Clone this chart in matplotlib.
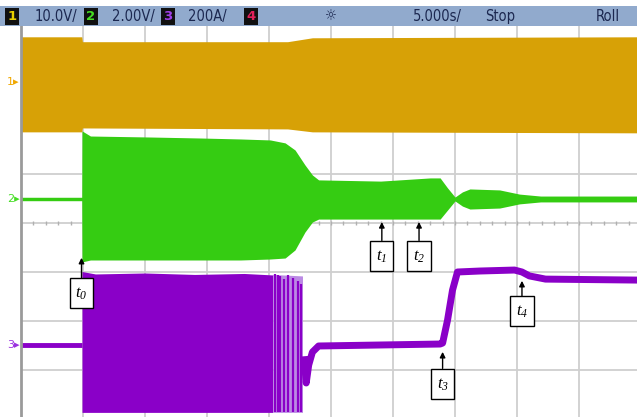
import matplotlib.pyplot as plt
import numpy as np
from matplotlib.patches import Rectangle

plt.rcParams['mathtext.fontset'] = 'custom'
plt.rcParams['mathtext.it'] = 'Liberation Serif:italic'
plt.rcParams['mathtext.rm'] = 'Liberation Serif:italic'

# scope settings: units per division and ground marker position (div from centre)
sec_per_div = 5.0
ch_scale = {1: 10.0, 2: 2.0, 3: 200.0}
ch_offset = {1: 2.88, 2: 0.49, 3: -2.49}

# channel 1 (V), envelope of the oscillation
ch1_t = [0, 4.9, 4.95, 21.5, 23.5, 49.7]
ch1_hi = [9.2, 9.2, 8.2, 8.2, 9.0, 9.2]
ch1_lo = [-10.2, -10.2, -9.4, -9.6, -10.2, -10.4]

# channel 2 (V), envelope
ch2_t = [0, 4.9, 4.92, 5.6, 10.4, 14.4, 17.7, 20.1, 21.3, 22.1, 22.9, 23.5, 24.0,
         29.0, 33.0, 33.8, 34.4, 35.0, 35.6, 36.2, 38.6, 40.2, 41.9, 49.7]
ch2_hi = [0.07, 0.07, 2.78, 2.57, 2.53, 2.49, 2.45, 2.41, 2.29, 2.0, 1.39, 0.98, 0.78,
          0.73, 0.86, 0.86, 0.45, 0.08, 0.29, 0.41, 0.37, 0.20, 0.12, 0.12]
ch2_lo = [-0.07, -0.07, -2.57, -2.49, -2.49, -2.49, -2.49, -2.45, -2.41, -2.08, -1.35, -0.94, -0.82,
          -0.82, -0.82, -0.82, -0.45, -0.08, -0.29, -0.41, -0.37, -0.20, -0.12, -0.12]

# channel 3 (A): idle level, burst envelope, fading burst, then the current trace
ch3_idle_t = [0, 4.92]
ch3_idle = [0, 0]
ch3_burst_t = [4.92, 6.0, 10.0, 14.0, 18.0, 20.3]
ch3_burst_hi = [300, 290, 294, 288, 292, 286]
ch3_burst_lo = [-275, -275, -275, -275, -275, -275]
ch3_fade_t = [20.3, 22.7]
ch3_fade_hi = [288, 282]
ch3_stripe_t = [20.5, 20.7, 20.9, 21.2, 21.5, 21.9, 22.3, 22.6]
ch3_stripe_hi = [290, 284, 280, 270, 285, 275, 260, 250]
ch3_trace_t = [22.85, 23.0, 23.2, 23.5, 24.0, 33.8, 34.0, 34.4, 34.8, 35.2,
               37.0, 39.8, 40.4, 41.0, 42.3, 49.7]
ch3_trace = [-60, -155, -82, -29, -4, 4, 8, 102, 224, 298,
             302, 306, 298, 282, 269, 265]

# events
event_labels = ['$t_0$', '$t_1$', '$t_2$', '$t_3$', '$t_4$']
event_t = [4.88, 29.1, 32.1, 34.0, 40.4]

c1 = '#d7a106'
c2 = '#35cc12'
c3 = '#8a00c8'
c3_light = '#bb8ae4'


def to_div(v, ch):
    return ch_offset[ch] + np.asarray(v, dtype=float) / ch_scale[ch]


W, H = 637, 417
fig = plt.figure(figsize=(W / 100, H / 100), dpi=100)
ax = fig.add_axes([21 / W, 0, (W - 21) / W, (H - 26) / H])
ax.set_xlim(0, (W - 21) / 62 * sec_per_div)
ax.set_ylim((223 - H) / 49, (223 - 26) / 49)

# graticule
for k in range(1, 10):
    ax.axvline(k * sec_per_div, color='#cfcfcf', lw=1.3, zorder=0)
for j in range(-3, 4):
    ax.axhline(j, color='#cfcfcf', lw=1.3, zorder=0)
ax.plot(np.arange(0, 50, 1.0), np.zeros(50), '|', color='#b0b0b0', ms=3, zorder=0)

# channel 1
ax.fill_between(ch1_t, to_div(ch1_lo, 1), to_div(ch1_hi, 1), color=c1, lw=0, zorder=2)

# channel 2
ax.fill_between(ch2_t, to_div(ch2_lo, 2), to_div(ch2_hi, 2), color=c2, lw=0, zorder=2)

# channel 3
ax.plot(ch3_idle_t, to_div(ch3_idle, 3), color=c3, lw=3.5, solid_capstyle='butt', zorder=2)
ax.fill_between(ch3_burst_t, to_div(ch3_burst_lo, 3), to_div(ch3_burst_hi, 3), color=c3, lw=0, zorder=2)
ax.fill_between(ch3_fade_t, to_div([-275, -275], 3), to_div(ch3_fade_hi, 3), color=c3_light, lw=0, zorder=2)
ax.vlines(ch3_stripe_t, to_div(-275, 3), to_div(ch3_stripe_hi, 3), color=c3, lw=1.6, zorder=3)
ax.plot(ch3_trace_t, to_div(ch3_trace, 3), color=c3, lw=5, solid_joinstyle='round', zorder=3)

# ground markers
for ch, col in [(1, '#f0a800'), (2, '#44dd22'), (3, '#9a30e0')]:
    ax.text(-0.1, ch_offset[ch], str(ch) + '\u25b8', color=col, fontsize=8,
            ha='right', va='center', clip_on=False)

# event markers
tips = [-0.71, 0.02, 0.02, -2.63, -1.18]
boxes = [-1.43, -0.67, -0.67, -3.28, -1.80]
for lab, t, ytip, ybox in zip(event_labels, event_t, tips, boxes):
    ax.annotate(lab, xy=(t, ytip), xytext=(t, ybox), ha='center', va='center',
                fontsize=12, zorder=5,
                bbox=dict(boxstyle='square,pad=0.35', fc='white', ec='black', lw=1),
                arrowprops=dict(arrowstyle='-|>', color='black', lw=1,
                                mutation_scale=8, shrinkA=0, shrinkB=0))

for s in ['top', 'right', 'bottom']:
    ax.spines[s].set_visible(False)
ax.spines['left'].set_color('#9a9a9a')
ax.spines['left'].set_linewidth(2)
ax.set_xticks([])
ax.set_yticks([])

# header bar
fig.patches.append(Rectangle((0, 1 - 26 / H), 1, 20 / H, transform=fig.transFigure,
                             fc='#91aacd', ec='none', zorder=0))
yh = 1 - 16.5 / H
hdr = dict(color='#1c2850', fontsize=10.5, fontstretch='condensed', va='center')
for x, n, col in [(12, '1', '#e8d000'), (91, '2', '#44dd22'), (168, '3', '#a040e8'), (251, '4', '#e0205a')]:
    fig.text(x / W, yh, n, color=col, fontsize=9.5, fontweight='bold', ha='center', va='center',
             bbox=dict(boxstyle='square,pad=0.18', fc='#101010', ec='none'))
fig.text(35 / W, yh, '10.0V/', ha='left', **hdr)
fig.text(112 / W, yh, '2.00V/', ha='left', **hdr)
fig.text(188 / W, yh, '200A/', ha='left', **hdr)
fig.text(331 / W, yh, '\u263c', ha='center', **hdr)
fig.text(413 / W, yh, '5.000s/', ha='left', **hdr)
fig.text(485 / W, yh, 'Stop', ha='left', **hdr)
fig.text(596 / W, yh, 'Roll', ha='left', **hdr)

fig.savefig('out.png', dpi=100)
